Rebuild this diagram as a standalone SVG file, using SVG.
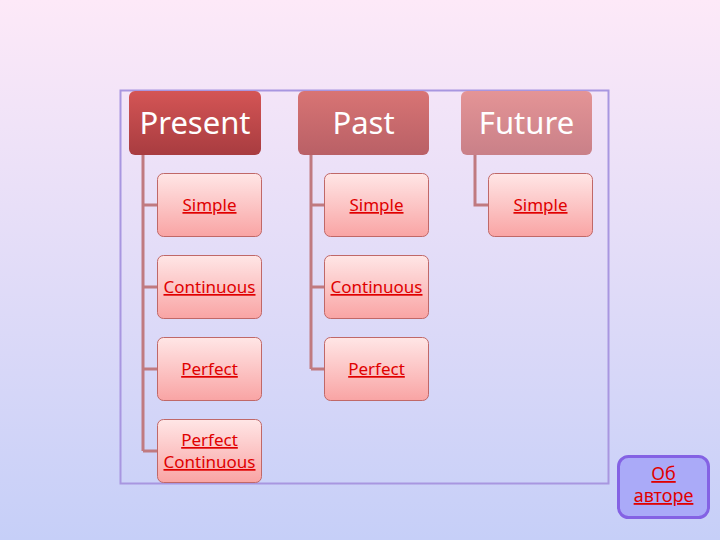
<svg xmlns="http://www.w3.org/2000/svg" width="720" height="540" viewBox="0 0 720 540">
<defs>
<linearGradient id="bg" x1="0" y1="0" x2="0" y2="1"><stop offset="0" stop-color="#fde9f8"/><stop offset="1" stop-color="#c6cff8"/></linearGradient>
<linearGradient id="h1" x1="0" y1="0" x2="0" y2="1"><stop offset="0" stop-color="#d45555"/><stop offset="1" stop-color="#a83c40"/></linearGradient>
<linearGradient id="h2" x1="0" y1="0" x2="0" y2="1"><stop offset="0" stop-color="#d87474"/><stop offset="1" stop-color="#b96066"/></linearGradient>
<linearGradient id="h3" x1="0" y1="0" x2="0" y2="1"><stop offset="0" stop-color="#e49496"/><stop offset="1" stop-color="#c98088"/></linearGradient>
<linearGradient id="ch" x1="0" y1="0" x2="0" y2="1"><stop offset="0" stop-color="#ffe6e6"/><stop offset="1" stop-color="#f9a4a4"/></linearGradient>
</defs>
<style>
.hl{font-family:"Noto Sans","Open Sans",sans-serif;font-size:31px;fill:#ffffff;text-anchor:middle}
.cb{fill:url(#ch);stroke:#c06868;stroke-width:1}
.ct{font-family:"Noto Sans","Open Sans",sans-serif;font-size:17px;fill:#e00000;text-anchor:middle;text-decoration:underline}
.cn{fill:none;stroke:#c07a80;stroke-width:3}
</style>
<rect width="720" height="540" fill="url(#bg)"/>
<rect x="120.5" y="90.5" width="488" height="393" fill="none" stroke="#a896e0" stroke-width="2"/>
<g id="connectors">
<path class="cn" d="M143 155V451M143 205H157M143 287H157M143 369H157M143 451H157"/>
<path class="cn" d="M311 155V369M311 205H324M311 287H324M311 369H324"/>
<path class="cn" d="M475 155V205H488"/>
</g>
<g id="present"><rect x="129" y="91" width="132" height="64" rx="6" fill="url(#h1)"/><text class="hl" x="195" y="134">Present</text></g>
<g id="past"><rect x="298" y="91" width="131" height="64" rx="6" fill="url(#h2)"/><text class="hl" x="363.5" y="134">Past</text></g>
<g id="future"><rect x="461" y="91" width="131" height="64" rx="6" fill="url(#h3)"/><text class="hl" x="526.5" y="134">Future</text></g>
<g id="present-simple"><rect class="cb" x="157.5" y="173.5" width="104" height="63" rx="6"/><text class="ct" x="209.5" y="211">Simple</text></g>
<g id="present-continuous"><rect class="cb" x="157.5" y="255.5" width="104" height="63" rx="6"/><text class="ct" x="209.5" y="293">Continuous</text></g>
<g id="present-perfect"><rect class="cb" x="157.5" y="337.5" width="104" height="63" rx="6"/><text class="ct" x="209.5" y="375">Perfect</text></g>
<g id="present-perfect-continuous"><rect class="cb" x="157.5" y="419.5" width="104" height="63" rx="6"/><text class="ct" x="209.5" y="446">Perfect</text><text class="ct" x="209.5" y="468">Continuous</text></g>
<g id="past-simple"><rect class="cb" x="324.5" y="173.5" width="104" height="63" rx="6"/><text class="ct" x="376.5" y="211">Simple</text></g>
<g id="past-continuous"><rect class="cb" x="324.5" y="255.5" width="104" height="63" rx="6"/><text class="ct" x="376.5" y="293">Continuous</text></g>
<g id="past-perfect"><rect class="cb" x="324.5" y="337.5" width="104" height="63" rx="6"/><text class="ct" x="376.5" y="375">Perfect</text></g>
<g id="future-simple"><rect class="cb" x="488.5" y="173.5" width="104" height="63" rx="6"/><text class="ct" x="540.5" y="211">Simple</text></g>
<g id="author"><rect x="618.5" y="456.5" width="90" height="61" rx="10" fill="#aaaaf8" stroke="#8462e4" stroke-width="3"/><text x="663.5" y="480" font-family="Noto Sans,sans-serif" font-size="18" fill="#e00000" text-anchor="middle" text-decoration="underline">Об</text><text x="663.5" y="502" font-family="Noto Sans,sans-serif" font-size="18" fill="#e00000" text-anchor="middle" text-decoration="underline">авторе</text></g>
</svg>
